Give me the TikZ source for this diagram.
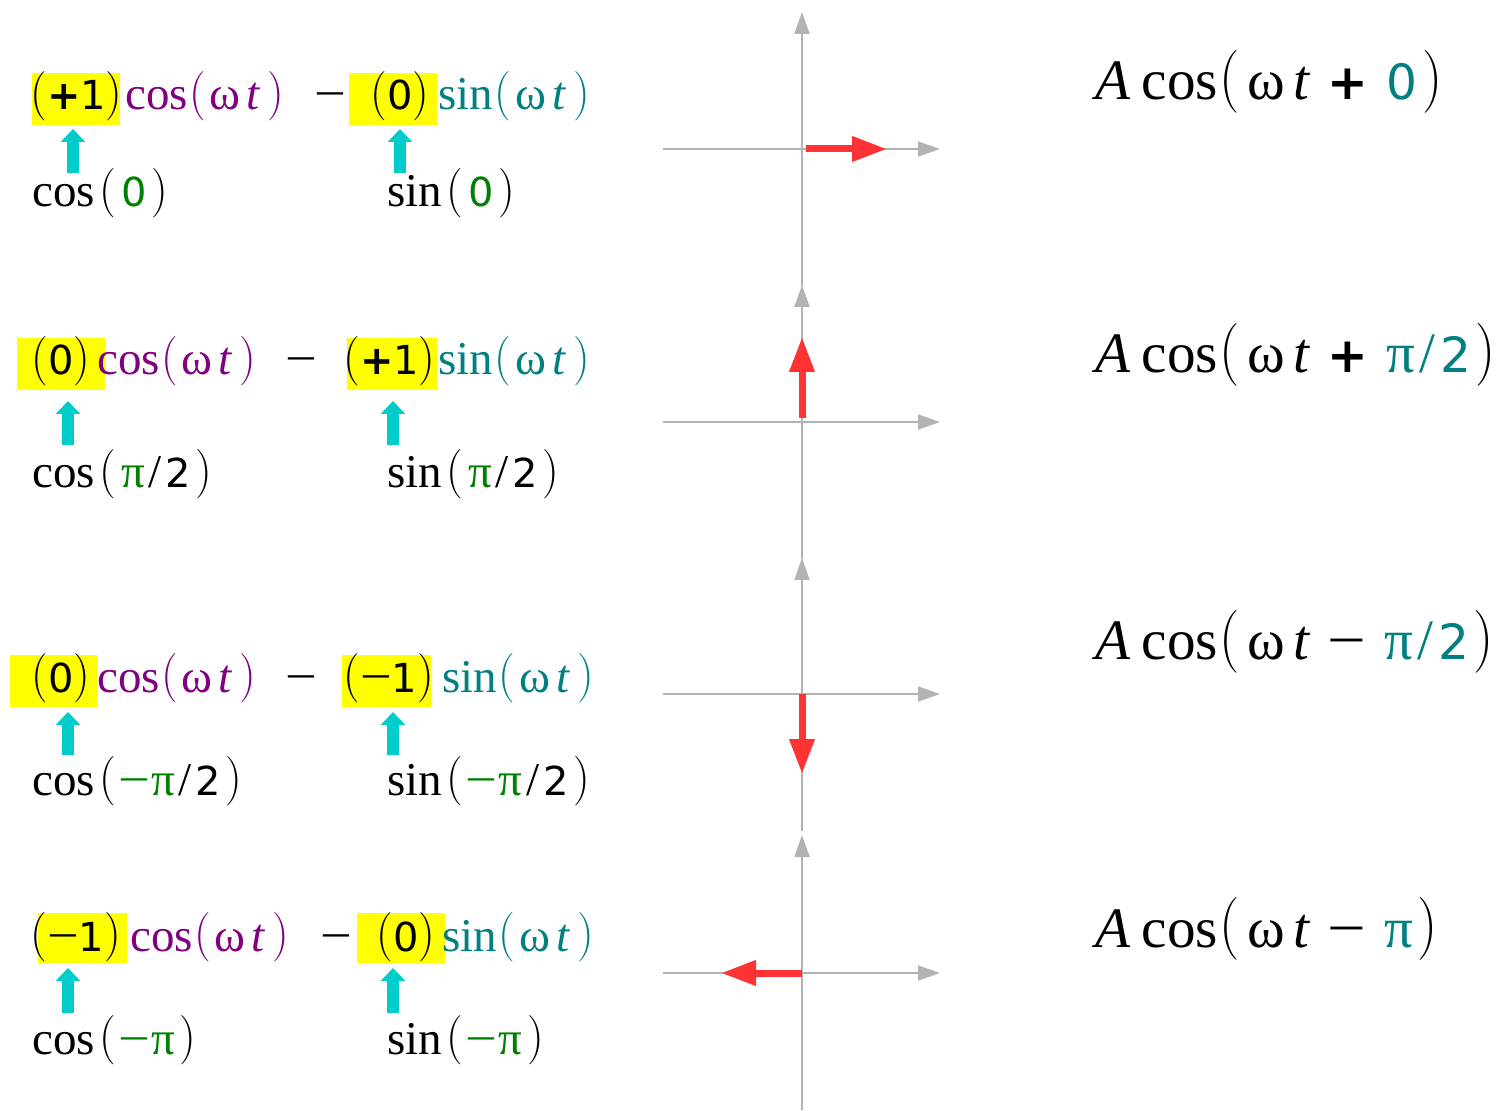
\documentclass[tikz,border=0pt]{standalone}
\usepackage{fontspec}
\usepackage{graphicx}
\setmainfont{Liberation Serif}
\newfontfamily\nf{DejaVu Sans}[Scale=0.85]
\newfontfamily\lmf{Latin Modern Roman}
\usetikzlibrary{arrows.meta}
\definecolor{myyellow}{HTML}{FFFF00}
\definecolor{mycyan}{HTML}{00CCCC}
\definecolor{myred}{HTML}{FF3333}
\definecolor{mygray}{HTML}{B3B3B3}
\definecolor{mypurple}{HTML}{800080}
\definecolor{myteal}{HTML}{008080}
\definecolor{mygreen}{HTML}{008000}
\newcommand\LP{\raisebox{.03em}{\scalebox{1}[1.05]{\lmf(}}}
\newcommand\RP{\raisebox{.03em}{\scalebox{1}[1.05]{\lmf)}}}
\newcommand\LPR{\raisebox{.04em}{\scalebox{1}[1.1]{\lmf(}}}
\newcommand\RPR{\raisebox{.04em}{\scalebox{1}[1.1]{\lmf)}}}
\newcommand\MN{\scalebox{1.2}[1]{−}}
\newcommand\WT{\hspace{.08em}ω\hspace{.13em}\textit{t}\hspace{.15em}}
\newcommand\CWT[1]{\textcolor{#1}{cos\hspace{.03em}\LP\WT\RP}}
\newcommand\SWT[1]{\textcolor{#1}{sin\hspace{.03em}\LP\WT\RP}}
\newcommand\PL{{\nf\bfseries +}}
\newcommand\DG[1]{{\nf #1}}
\newcommand\GR[1]{\textcolor{mygreen}{#1}}
\newcommand\TL[1]{\textcolor{myteal}{#1}}
\newcommand\SL{\hspace{.08em}/\hspace{.08em}}
\newcommand\ACOS[2]{\textit{A}\hspace{.2em}cos\hspace{.03em}\LPR\hspace{.12em}ω\hspace{.15em}\textit{t}\hspace{.3em}#1\hspace{.32em}\TL{#2}\hspace{.08em}\RPR}
\tikzset{
  lt/.style={anchor=base west, inner sep=0pt, font=\fontsize{23.5}{28}\selectfont},
  rt/.style={anchor=base west, inner sep=0pt, font=\fontsize{28.6}{34}\selectfont},
  ybox/.style={fill=myyellow, draw=none, inner sep=0pt, anchor=north west},
  cyarrow/.style={draw=mycyan, line width=6pt, -{Triangle[length=6.5pt,width=12pt]}},
  axis/.style={draw=mygray, line width=1pt, -{Triangle[length=11pt,width=7.5pt]}},
  vec/.style={draw=myred, line width=3.5pt, -{Triangle[length=17.5pt,width=12pt]}}
}
\begin{document}
\begin{tikzpicture}[x=0.5pt,y=-0.5pt]
\useasboundingbox[fill=white] (0,0) rectangle (1503,1111);
% ---------- yellow boxes ----------
\node[ybox, minimum width=44pt, minimum height=26pt] (y1a) at (32,73) {};
\node[ybox, minimum width=44pt, minimum height=26pt] (y1b) at (349,73) {};
\node[ybox, minimum width=44pt, minimum height=26pt] (y2a) at (17,338) {};
\node[ybox, minimum width=45pt, minimum height=26pt] (y2b) at (347,338) {};
\node[ybox, minimum width=43.5pt, minimum height=26pt] (y3a) at (10,655) {};
\node[ybox, minimum width=44.5pt, minimum height=26pt] (y3b) at (342,655) {};
\node[ybox, minimum width=44.5pt, minimum height=25pt] (y4a) at (38,913) {};
\node[ybox, minimum width=44pt, minimum height=25pt] (y4b) at (357,913) {};
% ---------- row 1 ----------
\node[lt] (r1a) at (30,110) {\LP\PL\DG{1}\RP};
\node[lt] (r1b) at (125,110) {\CWT{mypurple}};
\node[lt] (r1m) at (314,110) {\MN};
\node[lt] (r1c) at (370,110) {\LP\DG{0}\RP};
\node[lt] (r1d) at (438,110) {\SWT{myteal}};
\node[lt] (l1a) at (32,207) {cos\hspace{.1em}\LP\hspace{.1em}\GR{\DG{0}}\hspace{.1em}\RP};
\node[lt] (l1b) at (387,207) {sin\hspace{.1em}\LP\hspace{.1em}\GR{\DG{0}}\hspace{.1em}\RP};
% ---------- row 2 ----------
\node[lt] (r2a) at (31,375) {\LP\DG{0}\RP};
\node[lt] (r2b) at (97,375) {\CWT{mypurple}};
\node[lt] (r2m) at (285,375) {\MN};
\node[lt] (r2c) at (343,375) {\LP\PL\DG{1}\RP};
\node[lt] (r2d) at (438,375) {\SWT{myteal}};
\node[lt] (l2a) at (32,488) {cos\hspace{.1em}\LP\hspace{.1em}\GR{π}\SL\DG{2}\hspace{.1em}\RP};
\node[lt] (l2b) at (387,488) {sin\hspace{.1em}\LP\hspace{.1em}\GR{π}\SL\DG{2}\hspace{.1em}\RP};
% ---------- row 3 ----------
\node[lt] (r3a) at (31,692) {\LP\DG{0}\RP};
\node[lt] (r3b) at (97,692) {\CWT{mypurple}};
\node[lt] (r3m) at (285,692) {\MN};
\node[lt] (r3c) at (343,692) {\LP\MN\DG{1}\RP};
\node[lt] (r3d) at (442,692) {\SWT{myteal}};
\node[lt] (l3a) at (32,795) {cos\hspace{.1em}\LP\hspace{.05em}\GR{\MN\hspace{.02em}π}\SL\DG{2}\hspace{.1em}\RP};
\node[lt] (l3b) at (387,795) {sin\hspace{.1em}\LP\hspace{.05em}\GR{\MN\hspace{.02em}π}\SL\DG{2}\hspace{.1em}\RP};
% ---------- row 4 ----------
\node[lt] (r4a) at (30,951) {\LP\MN\DG{1}\RP};
\node[lt] (r4b) at (130,951) {\CWT{mypurple}};
\node[lt] (r4m) at (320,951) {\MN};
\node[lt] (r4c) at (376,951) {\LP\DG{0}\RP};
\node[lt] (r4d) at (442,951) {\SWT{myteal}};
\node[lt] (l4a) at (32,1054) {cos\hspace{.1em}\LP\hspace{.05em}\GR{\MN\hspace{.02em}π}\hspace{.1em}\RP};
\node[lt] (l4b) at (387,1054) {sin\hspace{.1em}\LP\hspace{.05em}\GR{\MN\hspace{.02em}π}\hspace{.1em}\RP};
% ---------- cyan arrows ----------
\foreach \n/\x/\ya/\yb in {c1a/73/173/129, c1b/400/173/129,
  c2a/68/445/401, c2b/393/445/401,
  c3a/68/755/712, c3b/393/755/712,
  c4a/68/1013/968, c4b/393/1013/968}{
  \coordinate (\n s) at (\x,\ya);
  \coordinate (\n e) at (\x,\yb);
  \draw[cyarrow] (\n s) -- (\n e);
}
% ---------- axes and vectors ----------
\foreach \i/\y/\top in {1/149/12, 2/422/285, 3/694/558, 4/973/835}{
  \coordinate (o\i) at (802,\y);
  \coordinate (hs\i) at (663,\y);
  \coordinate (he\i) at (940,\y);
  \coordinate (vs\i) at (802,\y+137);
  \coordinate (ve\i) at (802,\top);
  \draw[axis] (hs\i) -- (he\i);
  \draw[axis] (vs\i) -- (ve\i);
}
\coordinate (t1) at (887,149);
\coordinate (t2) at (802,337);
\coordinate (t3) at (802,774);
\coordinate (t4) at (721,973);
\draw[vec] ([xshift=2pt]o1) -- (t1);
\draw[vec] ([yshift=2pt]o2) -- (t2);
\draw[vec] (o3) -- (t3);
\draw[vec] (o4) -- (t4);
% ---------- right-hand formulas ----------
\node[rt] (f1) at (1095,100) {\ACOS{\PL}{\DG{0}}};
\node[rt] (f2) at (1095,373) {\ACOS{\PL}{π\SL\DG{2}}};
\node[rt] (f3) at (1095,660) {\ACOS{\MN}{π\SL\DG{2}}};
\node[rt] (f4) at (1095,947) {\ACOS{\MN}{π}};
\end{tikzpicture}
\end{document}
